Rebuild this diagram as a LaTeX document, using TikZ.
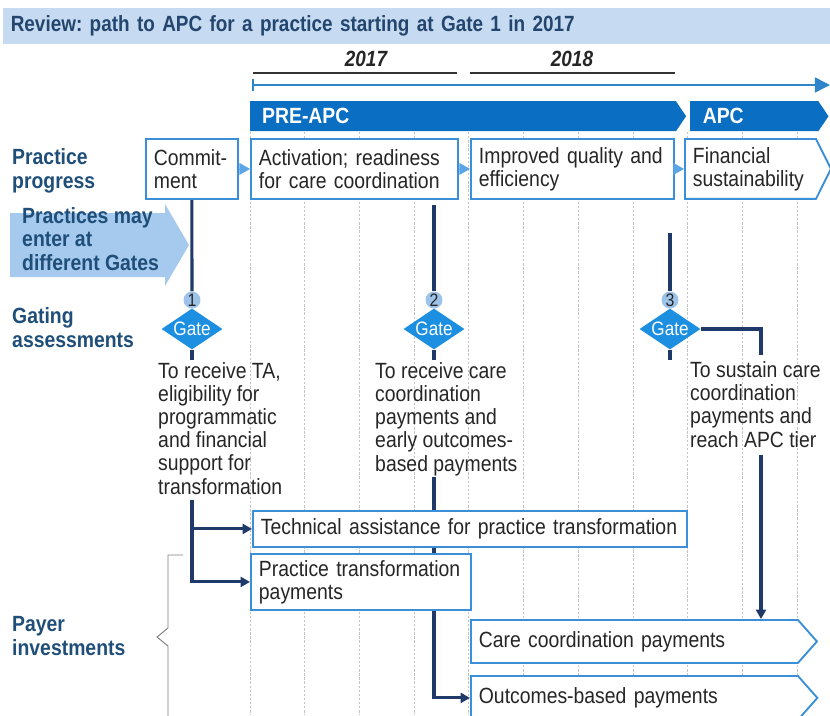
\documentclass[tikz,border=0pt]{standalone}
\usepackage{fontspec}
\setmainfont{Liberation Sans}[FakeStretch=0.88]
\newfontfamily\titlefont{Liberation Sans}[FakeStretch=0.86]
\usetikzlibrary{arrows.meta,shapes.geometric,shapes.symbols,backgrounds}

\definecolor{titlefill}{HTML}{C6DBF2}
\definecolor{titletext}{HTML}{24466E}
\definecolor{labelblue}{HTML}{1F4E79}
\definecolor{boxblue}{HTML}{3A8FD8}
\definecolor{barblue}{HTML}{0A6FC2}
\definecolor{gateblue}{HTML}{1D8FE1}
\definecolor{numblue}{HTML}{9DC3E9}
\definecolor{navy}{HTML}{1F3A68}
\definecolor{enterfill}{HTML}{A6C9EE}
\definecolor{steptri}{HTML}{5AA5E6}
\definecolor{bodytext}{HTML}{262626}
\definecolor{gridgrey}{HTML}{C4C4C4}

\tikzset{
  lbl/.style={anchor=base west,align=left,inner sep=0pt,font=\bfseries,text=labelblue},
  stage/.style={draw=boxblue,line width=1.6pt,fill=white,anchor=north west,
    align=left,inner xsep=6.8pt,inner ysep=0pt,execute at begin node={\hyphenpenalty=10000}},
  chevron/.style={stage,signal,signal to=east},
  bar/.style={fill=barblue,signal,signal to=east,signal pointer angle=112,anchor=north west,
    align=left,inner xsep=10.2pt,inner ysep=0pt,minimum height=25.6pt,
    font=\bfseries,text=white},
  gate/.style={diamond,fill=gateblue,aspect=1.5,inner sep=0pt,minimum width=52pt,
    minimum height=35pt,text=white,font=\fontsize{16.6}{17}\selectfont},
  num/.style={circle,fill=numblue,inner sep=0pt,minimum size=14.5pt,
    font=\fontsize{15.4}{16}\selectfont},
  gtext/.style={anchor=base west,align=left,inner sep=0pt},
  link/.style={draw=navy,line width=2.6pt},
  arr/.style={link,-{Triangle[length=8pt,width=8.5pt]}},
  steparrow/.style={draw=steptri,line width=0.6pt,-{Triangle[length=9pt,width=10pt]}},
  gridline/.style={draw=gridgrey,line width=0.6pt,dash pattern=on 2pt off 1.5pt},
  yearline/.style={draw=black!80,line width=1.3pt},
  timeline/.style={draw=barblue!85,line width=1.3pt},
  brace/.style={draw=black!50,line width=0.8pt}
}

\begin{document}
\frenchspacing
\fontsize{18.8}{19.8}\selectfont
\begin{tikzpicture}[x=0.03cm,y=-0.03cm,every node/.append style={text=bodytext}]
  \useasboundingbox (0,0) rectangle (830,715);

  % title and years
  \node[fill=titlefill,anchor=north west,minimum width=705.9pt,minimum height=29.9pt,
    text width=693pt,align=left,inner xsep=6pt,font=\titlefont\bfseries,text=titletext] (title) at (3,8)
    {Review: path to APC for a practice starting at Gate 1 in 2017};
  \node[anchor=base,font=\titlefont\bfseries\itshape] (y17) at (366,66) {2017};
  \node[anchor=base,font=\titlefont\bfseries\itshape] (y18) at (572,66) {2018};
  \draw[yearline] (253,73) -- (457,73);
  \draw[yearline] (470,73) -- (675,73);

  \coordinate (t0) at (253,85);
  \coordinate (t1) at (830,85);
  \draw[timeline,-{Triangle[length=13pt,width=13pt]}] (t0) -- (t1);
  \draw[timeline] (253,79) -- (253,91);

  % grid
  \begin{scope}[on background layer]
    \foreach \i in {0,...,10} {
      \draw[gridline] ({250+54.7*\i},132) -- ({250+54.7*\i},715);
    }
  \end{scope}

  \node[bar,minimum width=371.8pt,text width=343pt] (preapc) at (250,101) {PRE-APC};
  \node[bar,minimum width=118pt,text width=88pt] (apc) at (690,101) {APC};

  % practice progress
  \node[lbl] (prog) at (12,188) {Practice\\progress};
  \node[stage,minimum width=78.5pt,minimum height=51.2pt,text width=64.9pt] (commit) at (145,138) {Commit-\\ment};
  \node[stage,minimum width=176.7pt,minimum height=51.2pt,text width=163pt] (activ) at (250,138) {Activation; readiness\\for care coordination};
  \node[stage,minimum width=173.3pt,minimum height=51.2pt,text width=159.6pt] (improv) at (470,138) {Improved quality and\\efficiency};
  \node[chevron,signal pointer angle=127,minimum width=124.6pt,minimum height=51.2pt,text width=98.2pt] (financ) at (684,138) {Financial\\sustainability};
  \draw[steparrow] (commit) -- (activ);
  \draw[steparrow] (activ) -- (improv);
  \draw[steparrow] (improv) -- (financ);

  % entry arrow
  \fill[enterfill] (10,213) -- (165,213) -- (165,204) -- (189,245) -- (165,286) -- (165,277) -- (10,277) -- cycle;
  \node[lbl] (enter) at (22,270) {Practices may\\enter at\\different Gates};

  % gates
  \node[lbl] (gating) at (12,347) {Gating\\assessments};
  \foreach \n/\x in {1/192,2/434,3/670} {
    \node[num] (num\n) at (\x,300) {\n};
    \node[gate] (gate\n) at (\x,329) {Gate};
  }
  \node[gtext] (ga1) at (158,494) {To receive TA,\\eligibility for\\programmatic\\and financial\\support for\\transformation};
  \node[gtext] (ga2) at (375,471) {To receive care\\coordination\\payments and\\early outcomes-\\based payments};
  \node[gtext] (ga3) at (690,447) {To sustain care\\coordination\\payments and\\reach APC tier};

  % payer investments
  \node[lbl] (payer) at (12,655) {Payer\\investments};
  \draw[brace] (183,555) -- (168,555) -- (168,628) -- (157,637) -- (168,646) -- (168,716);
  \node[stage,minimum width=370.5pt,minimum height=30.7pt,text width=356.8pt] (tech) at (252,510) {Technical assistance for practice transformation};
  \node[stage,minimum width=187.8pt,minimum height=47.8pt,text width=174.1pt] (ptpay) at (250,553) {Practice transformation\\payments};
  \node[chevron,signal pointer angle=97,minimum width=295.3pt,minimum height=36.7pt,text width=265.5pt] (care) at (470,619) {Care coordination payments};
  \node[chevron,signal pointer angle=97,minimum width=295.3pt,minimum height=37.5pt,text width=265.5pt] (outc) at (470,675) {Outcomes-based payments};

  % connectors
  \coordinate (g2top) at (434,205);
  \coordinate (g3top) at (670,233);
  \coordinate (b1) at (192,500);
  \coordinate (b2) at (434,477);
  \coordinate (c3) at (761,355);
  \coordinate (c3b) at (761,455);
  \begin{scope}[on background layer]
    \draw[link] (commit) -- (num1);
    \draw[link] (g2top) -- (num2);
    \draw[link] (g3top) -- (num3);
    \foreach \n in {1,2,3} {
      \draw[link] (gate\n.south) -- ++(0,10);
    }
    \draw[link] (gate3.east) -| (c3);
    \draw[arr] (b1) |- (ptpay.west);
    \draw[arr] (b1 |- tech.west) -- (tech.west);
    \draw[arr] (b2) |- (outc.west);
    \draw[arr] (c3b) -- (c3b |- care.north);
  \end{scope}
\end{tikzpicture}
\end{document}
